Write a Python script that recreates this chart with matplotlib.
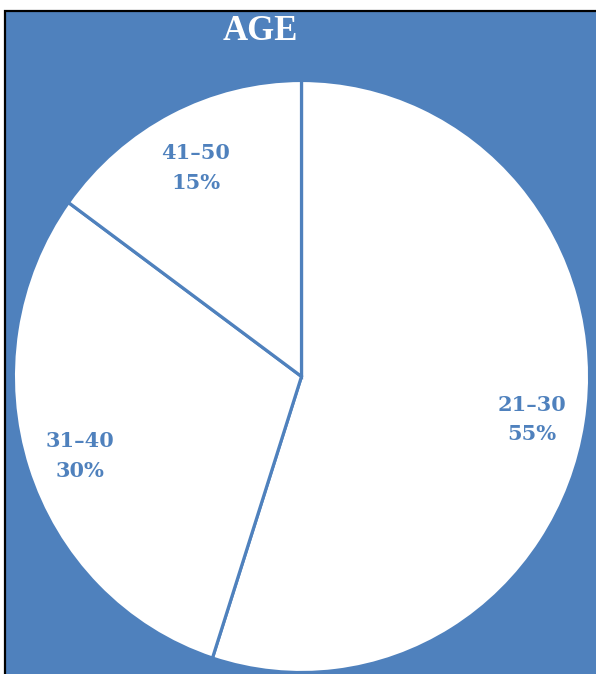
import numpy as np
import matplotlib.pyplot as plt
from matplotlib.patches import Rectangle

# Age distribution
categories = ["21–30", "31–40", "41–50"]
shares = [55, 30, 15]
title = "AGE"

BLUE = "#4F81BD"
W, H = 596, 674
fig = plt.figure(figsize=(W / 100, H / 100), dpi=100)
fig.patch.set_facecolor("white")

# background axes in pixel units: blue chart area with black frame on top and left
bg = fig.add_axes([0, 0, 1, 1], zorder=0)
bg.set_xlim(0, W)
bg.set_ylim(H, 0)
bg.axis("off")
bg.add_patch(Rectangle((5, 11), W - 5, H - 11, facecolor=BLUE, edgecolor="none"))
bg.plot([5, 5, W], [H, 11, 11], color="black", lw=1.6, solid_joinstyle="miter")
bg.text(260, 32, title, ha="center", va="center", color="white",
        fontsize=25, fontweight="bold", family=["Liberation Serif", "DejaVu Serif"])

ax = fig.add_axes([10.5 / W, -1.5 / H, 582 / W, 598 / H], zorder=1)
ax.patch.set_visible(False)
wedges, _ = ax.pie(shares, startangle=90, counterclock=False, radius=1.0,
                   colors=["white"] * len(shares),
                   wedgeprops=dict(edgecolor=BLUE, linewidth=2.3))
ax.set_aspect("auto")
ax.set_xlim(-1.01, 1.01)
ax.set_ylim(-1.01, 1.01)

font = ["DejaVu Serif"]
for w, cat, val in zip(wedges, categories, shares):
    mid = np.deg2rad((w.theta1 + w.theta2) / 2)
    r = 0.81
    ax.text(r * np.cos(mid), r * np.sin(mid) - 0.018, f"{cat}\n{val}%",
            ha="center", va="center", color=BLUE, fontsize=15,
            fontweight="bold", family=font, linespacing=1.6)

fig.savefig("out.png", dpi=100)
